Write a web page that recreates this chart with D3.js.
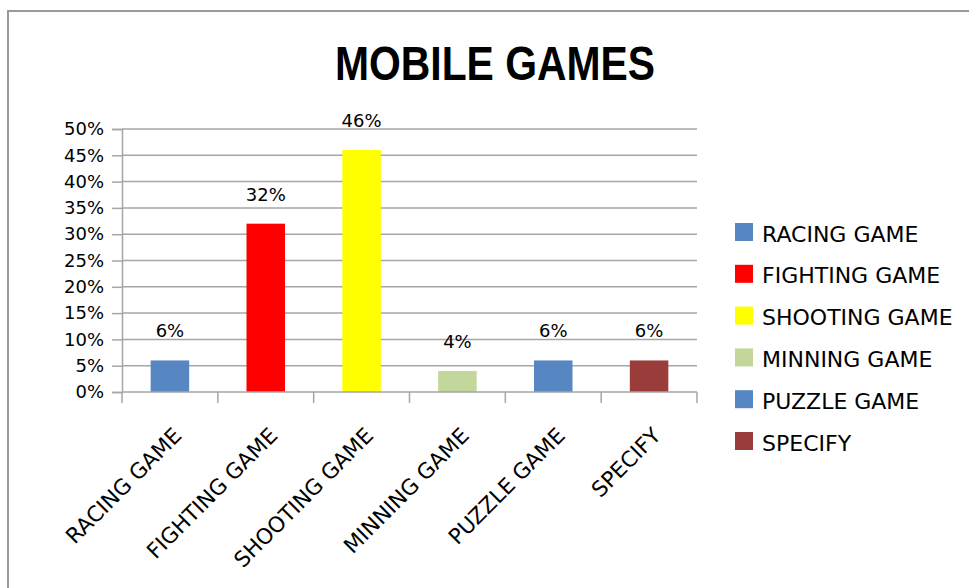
<!DOCTYPE html>
<html><head><meta charset="utf-8">
<script src="https://cdn.jsdelivr.net/npm/d3@7"></script>
<style>html,body{margin:0;padding:0;background:#fff;}svg{display:block;}</style>
</head><body>
<svg id="chart" width="969" height="588"></svg>
<script>
const categories = ["RACING GAME","FIGHTING GAME","SHOOTING GAME","MINNING GAME","PUZZLE GAME","SPECIFY"];
const values = [0.06,0.32,0.46,0.04,0.06,0.06];
const colors = ["#5787c3","#ff0000","#ffff00","#c3d69b","#5787c3","#9a3d3a"];
const yTicks = [0,0.05,0.10,0.15,0.20,0.25,0.30,0.35,0.40,0.45,0.50];
const chartTitle = "MOBILE GAMES";

(function(){
const svg = d3.select("#chart");
const font = "'DejaVu Sans', Verdana, sans-serif";
const gridColor = "#a6a6a6";

// outer border
svg.append("rect").attr("x",8).attr("y",11).attr("width",980).attr("height",600)
  .attr("fill","none").attr("stroke","#9a9a9a").attr("stroke-width",2);

// title
svg.append("text").attr("x",495).attr("y",80).attr("text-anchor","middle")
  .attr("font-family","'Liberation Sans Narrow','Liberation Sans',Arial,sans-serif")
  .attr("font-weight","bold").attr("font-size",49)
  .attr("textLength",320).attr("lengthAdjust","spacingAndGlyphs")
  .attr("fill","#000").text(chartTitle);

const pLeft=122, pRight=697, pTop=129, pBottom=392;
const x = d3.scaleBand().domain(categories).range([pLeft,pRight]).paddingInner(0).paddingOuter(0);
const y = d3.scaleLinear().domain([0,0.5]).range([pBottom,pTop]);

// gridlines
svg.append("g").selectAll("line").data(yTicks.slice(1)).join("line")
  .attr("x1",pLeft).attr("x2",pRight).attr("y1",d=>y(d)).attr("y2",d=>y(d))
  .attr("stroke",gridColor).attr("stroke-width",1.5);

// y axis
const yAxis = d3.axisLeft(y).tickValues(yTicks).tickFormat(d3.format(".0%")).tickSize(10).tickPadding(8);
const gy = svg.append("g").attr("transform",`translate(${pLeft},0)`).call(yAxis);
gy.select(".domain").attr("stroke",gridColor).attr("stroke-width",1.5);
gy.selectAll(".tick line").attr("stroke",gridColor).attr("stroke-width",1.5);
gy.selectAll(".tick text").attr("font-family",font).attr("font-size",18).attr("fill","#000");

// bars
const barW = 38.5;
svg.append("g").selectAll("rect").data(categories).join("rect")
  .attr("x",(d)=>x(d)+x.bandwidth()/2-barW/2)
  .attr("y",(d,i)=>y(values[i]))
  .attr("width",barW)
  .attr("height",(d,i)=>pBottom-y(values[i]))
  .attr("fill",(d,i)=>colors[i]);

// x axis
const gx = svg.append("g").attr("transform",`translate(0,${pBottom})`);
gx.append("line").attr("x1",pLeft).attr("x2",pRight).attr("stroke",gridColor).attr("stroke-width",1.5);
const boundaries = categories.map(c=>x(c)).concat([pRight]);
gx.selectAll("line.tk").data(boundaries).join("line").attr("class","tk")
  .attr("x1",d=>d).attr("x2",d=>d).attr("y1",0).attr("y2",11)
  .attr("stroke",gridColor).attr("stroke-width",1.5);
gx.selectAll("text").data(categories).join("text")
  .attr("transform",d=>`translate(${x(d)+x.bandwidth()/2+13},${437-pBottom}) rotate(-45)`)
  .attr("text-anchor","end").attr("font-family",font).attr("font-size",21.5).attr("fill","#000")
  .text(d=>d);

// data labels
svg.append("g").selectAll("text").data(categories).join("text")
  .attr("x",d=>x(d)+x.bandwidth()/2)
  .attr("y",(d,i)=>y(values[i])-23)
  .attr("text-anchor","middle").attr("font-family",font).attr("font-size",18).attr("fill","#000")
  .text((d,i)=>d3.format(".0%")(values[i]));

// legend
const lg = svg.append("g").selectAll("g").data(categories).join("g")
  .attr("transform",(d,i)=>`translate(735,${223+i*41.8})`);
lg.append("rect").attr("width",18).attr("height",18).attr("fill",(d,i)=>colors[i]);
lg.append("text").attr("x",27).attr("y",18.5).attr("font-family",font).attr("font-size",22).attr("fill","#000").text(d=>d);
})();
</script>
</body></html>
